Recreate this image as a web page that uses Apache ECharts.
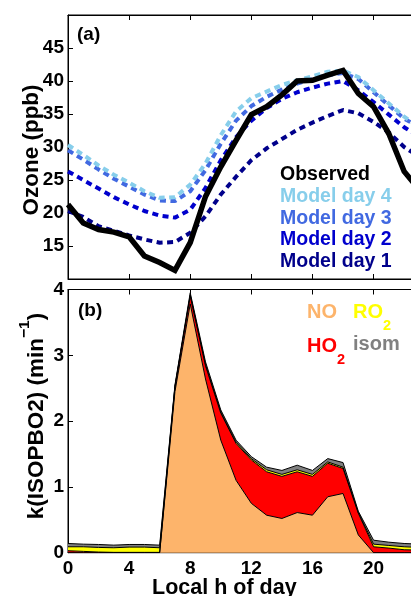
<!DOCTYPE html>
<html>
<head>
<meta charset="utf-8">
<script src="https://cdn.jsdelivr.net/npm/echarts@6/dist/echarts.min.js"></script>
<style>
html, body { margin: 0; padding: 0; background: #fff; }
#chart { width: 411px; height: 596px; }
</style>
</head>
<body>
<div id="chart"></div>
<script>
// local hour of day
var hours = [0, 1, 2, 3, 4, 5, 6, 7, 8, 9, 10, 11, 12, 13, 14, 15, 16, 17, 18, 19, 20, 21, 22, 23];
// category slots for panel (b), the axis runs to 24
var hourSlots = hours.concat([24]);

// (a) ozone, ppb
var observed  = [21.3, 18.5, 17.5, 17.1, 16.4, 13.5, 12.5, 11.3, 15.5, 22.5, 27.0, 31.0, 34.9, 36.1, 37.9, 40.0, 40.1, 40.9, 41.6, 38.1, 36.1, 32.0, 26.3, 23.5];
var modelDay4 = [30.3, 28.8, 27.2, 25.8, 24.6, 23.3, 22.3, 22.4, 24.3, 27.5, 31.8, 35.4, 37.4, 38.4, 39.4, 40.1, 40.7, 41.4, 41.6, 40.6, 38.6, 36.6, 34.6, 33.0];
var modelDay3 = [29.5, 28.1, 26.6, 25.2, 24.0, 22.8, 21.9, 21.8, 23.3, 26.5, 30.5, 34.0, 36.2, 37.6, 38.7, 39.6, 40.3, 40.9, 41.2, 40.3, 38.3, 36.3, 34.3, 33.0];
var modelDay2 = [26.3, 25.0, 23.7, 22.4, 21.3, 20.3, 19.6, 19.3, 20.5, 23.8, 28.0, 31.5, 34.0, 35.9, 37.3, 38.3, 39.0, 39.6, 40.0, 38.6, 36.8, 34.9, 33.0, 31.5];
var modelDay1 = [20.3, 19.4, 18.0, 17.3, 16.6, 16.0, 15.5, 15.6, 17.0, 19.5, 22.8, 25.5, 28.0, 29.8, 31.2, 32.6, 33.7, 34.7, 35.6, 35.1, 33.8, 32.2, 30.0, 28.5];

// (b) k(ISOPBO2) contributions, min-1
var kNO   = [0, 0, 0, 0, 0, 0, 0, 2.45, 3.78, 2.64, 1.71, 1.10, 0.75, 0.57, 0.52, 0.61, 0.57, 0.85, 0.90, 0.27, 0, 0, 0, 0];
var kHO2  = [0.03, 0.02, 0.01, 0.005, 0.005, 0.005, 0.005, 0.07, 0.12, 0.20, 0.41, 0.56, 0.66, 0.66, 0.64, 0.62, 0.59, 0.51, 0.38, 0.33, 0.09, 0.07, 0.045, 0.04];
var kRO2  = [0.06, 0.07, 0.07, 0.07, 0.08, 0.08, 0.07, 0.01, 0.02, 0.02, 0.02, 0.02, 0.02, 0.03, 0.03, 0.03, 0.03, 0.02, 0.02, 0.01, 0.04, 0.04, 0.045, 0.04];
var kIsom = [0.05, 0.04, 0.045, 0.04, 0.04, 0.04, 0.04, 0.02, 0.03, 0.04, 0.03, 0.03, 0.03, 0.04, 0.06, 0.07, 0.06, 0.05, 0.07, 0.02, 0.06, 0.05, 0.05, 0.05];

var FONT = '"Liberation Sans", Arial, Helvetica, sans-serif';
var chart = echarts.init(document.getElementById('chart'));

function pairs(vals) {
    return hours.map(function (h, i) { return [h, vals[i]]; });
}

function modelLine(name, vals, color) {
    return {
        name: name, type: 'line', xAxisIndex: 0, yAxisIndex: 0,
        data: pairs(vals), showSymbol: false, silent: true,
        lineStyle: { color: color, width: 4, type: [6, 4.5], cap: 'butt' },
        itemStyle: { color: color }
    };
}

function kArea(name, vals, color) {
    return {
        name: name, type: 'line', xAxisIndex: 2, yAxisIndex: 1, stack: 'k',
        data: vals, showSymbol: false, silent: true,
        lineStyle: { color: '#000', width: 1 },
        areaStyle: { color: color, opacity: 1 },
        itemStyle: { color: color }
    };
}

var axisBlack = { show: true, lineStyle: { color: '#000', width: 1 } };
var tickIn = { show: true, inside: true, length: 5, lineStyle: { color: '#000' } };
var tickLabel = { fontSize: 19, fontWeight: 'bold', color: '#000', fontFamily: FONT, margin: 4 };

// value x axis with ticks only (panel a, and top edge of panel b)
function hourAxis(grid, pos) {
    return {
        gridIndex: grid, type: 'value', position: pos, min: 0, max: 24, interval: 4,
        axisLine: axisBlack, axisTick: tickIn,
        axisLabel: { show: false }, splitLine: { show: false }
    };
}

var option = {
    animation: false,
    textStyle: { fontFamily: FONT },
    title: [
        { text: '(a)', left: 77, top: 25, padding: 0, textStyle: { fontSize: 19, fontWeight: 'bold', color: '#000', fontFamily: FONT } },
        { text: '(b)', left: 78, top: 301, padding: 0, textStyle: { fontSize: 19, fontWeight: 'bold', color: '#000', fontFamily: FONT } }
    ],
    legend: [
        {
            data: [
                { name: 'Observed', textStyle: { color: '#000' } },
                { name: 'Model day 4', textStyle: { color: '#87CEEB' } },
                { name: 'Model day 3', textStyle: { color: '#4169E1' } },
                { name: 'Model day 2', textStyle: { color: '#0000CD' } },
                { name: 'Model day 1', textStyle: { color: '#00008B' } }
            ],
            orient: 'vertical', left: 275, top: 164, padding: 0, itemGap: 0,
            itemWidth: 0, itemHeight: 0, icon: 'none', selectedMode: false,
            textStyle: { fontSize: 19.5, fontWeight: 'bold', lineHeight: 21.7, fontFamily: FONT }
        },
        {
            data: ['NO', 'HO2'],
            orient: 'vertical', left: 302, top: 302, padding: 0, itemGap: 14,
            itemWidth: 0, itemHeight: 0, icon: 'none', selectedMode: false,
            formatter: function (n) { return n === 'HO2' ? '{ho|HO}{hos|2}' : '{no|NO}'; },
            textStyle: {
                fontFamily: FONT,
                rich: {
                    no: { fontSize: 20, fontWeight: 'bold', color: '#FDB46B', lineHeight: 20, verticalAlign: 'top' },
                    ho: { fontSize: 20, fontWeight: 'bold', color: '#FF0000', lineHeight: 20, verticalAlign: 'top' },
                    hos: { fontSize: 14.5, fontWeight: 'bold', color: '#FF0000', lineHeight: 14.5, verticalAlign: 'top', padding: [16, 0, 0, 0] }
                }
            }
        },
        {
            data: ['RO2', 'isom'],
            orient: 'vertical', left: 348, top: 302, padding: 0, itemGap: 1.5,
            itemWidth: 0, itemHeight: 0, icon: 'none', selectedMode: false,
            formatter: function (n) { return n === 'RO2' ? '{ro|RO}{ros|2}' : '{is|isom}'; },
            textStyle: {
                fontFamily: FONT,
                rich: {
                    ro: { fontSize: 20, fontWeight: 'bold', color: '#FFFF00', lineHeight: 20, verticalAlign: 'top' },
                    ros: { fontSize: 14.5, fontWeight: 'bold', color: '#FFFF00', lineHeight: 14.5, verticalAlign: 'top', padding: [16, 0, 0, 0] },
                    is: { fontSize: 20, fontWeight: 'bold', color: '#808080', lineHeight: 20, verticalAlign: 'top' }
                }
            }
        }
    ],
    grid: [
        { left: 68, top: 15, right: -23.7, bottom: 317, show: true, borderColor: '#000', borderWidth: 1, outerBoundsMode: 'none' },
        { left: 68, top: 289.5, right: -23.7, bottom: 43.3, show: true, borderColor: '#000', borderWidth: 1, outerBoundsMode: 'none' }
    ],
    xAxis: [
        hourAxis(0, 'bottom'),
        hourAxis(0, 'top'),
        {
            gridIndex: 1, type: 'category', position: 'bottom', data: hourSlots, boundaryGap: false,
            axisLine: axisBlack,
            axisTick: Object.assign({ interval: 3 }, tickIn),
            axisLabel: Object.assign({ interval: 3 }, tickLabel, { margin: 7 }),
            splitLine: { show: false },
            name: 'Local h of day', nameLocation: 'middle', nameGap: 24, nameMoveOverlap: false,
            nameTextStyle: { fontSize: 21.5, fontWeight: 'bold', color: '#000', fontFamily: FONT, padding: [0, 54, 0, 0] }
        },
        hourAxis(1, 'top')
    ],
    yAxis: [
        {
            gridIndex: 0, type: 'value', min: 10, max: 50, interval: 5,
            axisLine: axisBlack, axisTick: tickIn,
            axisLabel: Object.assign({ showMinLabel: false, showMaxLabel: false }, tickLabel),
            splitLine: { show: false },
            name: 'Ozone (ppb)', nameLocation: 'middle', nameGap: 25, nameMoveOverlap: false,
            nameTextStyle: { fontSize: 22.5, fontWeight: 'bold', color: '#000', fontFamily: FONT, padding: [0, 6, 0, 0] }
        },
        {
            gridIndex: 1, type: 'value', min: 0, max: 4, interval: 1,
            axisLine: axisBlack, axisTick: tickIn,
            axisLabel: tickLabel,
            splitLine: { show: false },
            name: '{m|k(ISOPBO2) (min}{sup|\u22121}{m|)}', nameLocation: 'middle', nameGap: 20, nameMoveOverlap: false,
            nameTextStyle: {
                fontFamily: FONT,
                padding: [0, 0, 0, 10],
                rich: {
                    m: { fontSize: 22.5, fontWeight: 'bold', color: '#000', lineHeight: 31, verticalAlign: 'bottom' },
                    sup: { fontSize: 15.5, fontWeight: 'bold', color: '#000', lineHeight: 15, verticalAlign: 'top' }
                }
            }
        }
    ],
    series: [
        modelLine('Model day 1', modelDay1, '#00008B'),
        modelLine('Model day 2', modelDay2, '#0000CD'),
        modelLine('Model day 3', modelDay3, '#4169E1'),
        modelLine('Model day 4', modelDay4, '#87CEEB'),
        {
            name: 'Observed', type: 'line', xAxisIndex: 0, yAxisIndex: 0,
            data: pairs(observed), showSymbol: false, silent: true,
            lineStyle: { color: '#000', width: 5.5, join: 'miter' },
            itemStyle: { color: '#000' }
        },
        kArea('NO', kNO, '#FDB46B'),
        kArea('HO2', kHO2, '#FF0000'),
        kArea('RO2', kRO2, '#FFFF00'),
        kArea('isom', kIsom, '#808080')
    ]
};

chart.setOption(option);
</script>
</body>
</html>
